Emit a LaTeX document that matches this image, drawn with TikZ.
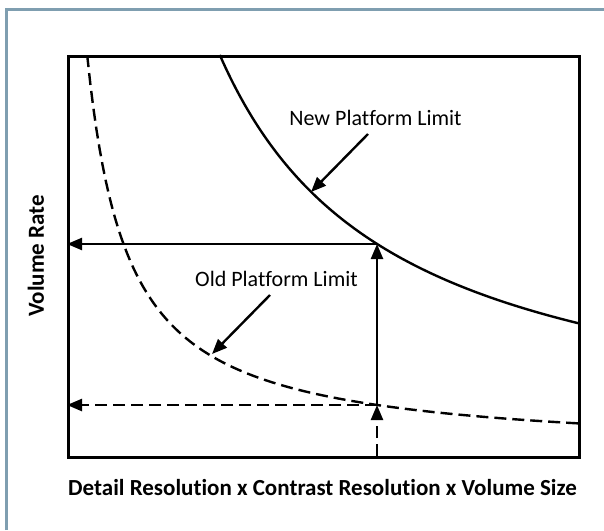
\documentclass[tikz,border=0pt]{standalone}
\usepackage{fontspec}
\setmainfont[RawFeature=-liga]{Carlito}
\usetikzlibrary{arrows.meta}
\definecolor{framecol}{HTML}{7F9EB0}
\tikzset{
  axisbox/.style={line width=3pt},
  curveline/.style={line width=2.4pt},
  dashcurve/.style={line width=2.4pt, dash pattern=on 12pt off 6pt},
  arrowline/.style={line width=2.4pt, -{Triangle[length=15pt,width=12pt]}},
  dasharrow/.style={line width=2.4pt, dash pattern=on 12pt off 6pt, -{Triangle[length=15pt,width=12pt]}},
  lbl/.style={font=\fontsize{22}{26}\selectfont, inner sep=0pt},
  axlbl/.style={font=\fontsize{23}{27}\selectfont\bfseries, inner sep=0pt}
}
\begin{document}
\begin{tikzpicture}[x=1pt,y=-1pt]
\useasboundingbox (0,0) rectangle (604,530);
% outer frame (top and left visible)
\draw[framecol, line width=3pt] (6,530) -- (6,9) -- (604,9);
% plot box
\node[draw, axisbox, minimum width=511pt, minimum height=401pt, inner sep=0pt, anchor=north west] (box) at (67,55) {};
% curves
\draw[curveline] plot[domain=219.8:578, samples=120] (\x, {454-697.5/((\x-45)/100)});
\draw[dashcurve] plot[domain=87.2:578, samples=160] (\x, {453.6-160.57/((\x-46.9)/100)});
% key points
\coordinate (pnew) at (377,244);
\coordinate (pold) at (377,405);
\coordinate (ynew) at (67,244);
\coordinate (yold) at (67,405);
\coordinate (xb) at (377,456);
% arrows
\draw[arrowline] (pnew) -- (ynew);
\draw[dasharrow] (pold) -- (yold);
\draw[arrowline] (pold) -- (pnew);
\draw[dasharrow] (xb) -- (pold);
% labels
\node[lbl] (newl) at (375.5,118) {New Platform Limit};
\node[lbl] (oldl) at (276.5,279) {Old Platform Limit};
\coordinate (newtip) at (311,192);
\coordinate (oldtip) at (212,354);
\draw[arrowline] (368,134) -- (newtip);
\draw[arrowline] (270,295) -- (oldtip);
\node[axlbl] (xl) at (322.5,488) {Detail Resolution x Contrast Resolution x Volume Size};
\node[axlbl, rotate=90] (yl) at (36,256) {Volume Rate};
\end{tikzpicture}
\end{document}
